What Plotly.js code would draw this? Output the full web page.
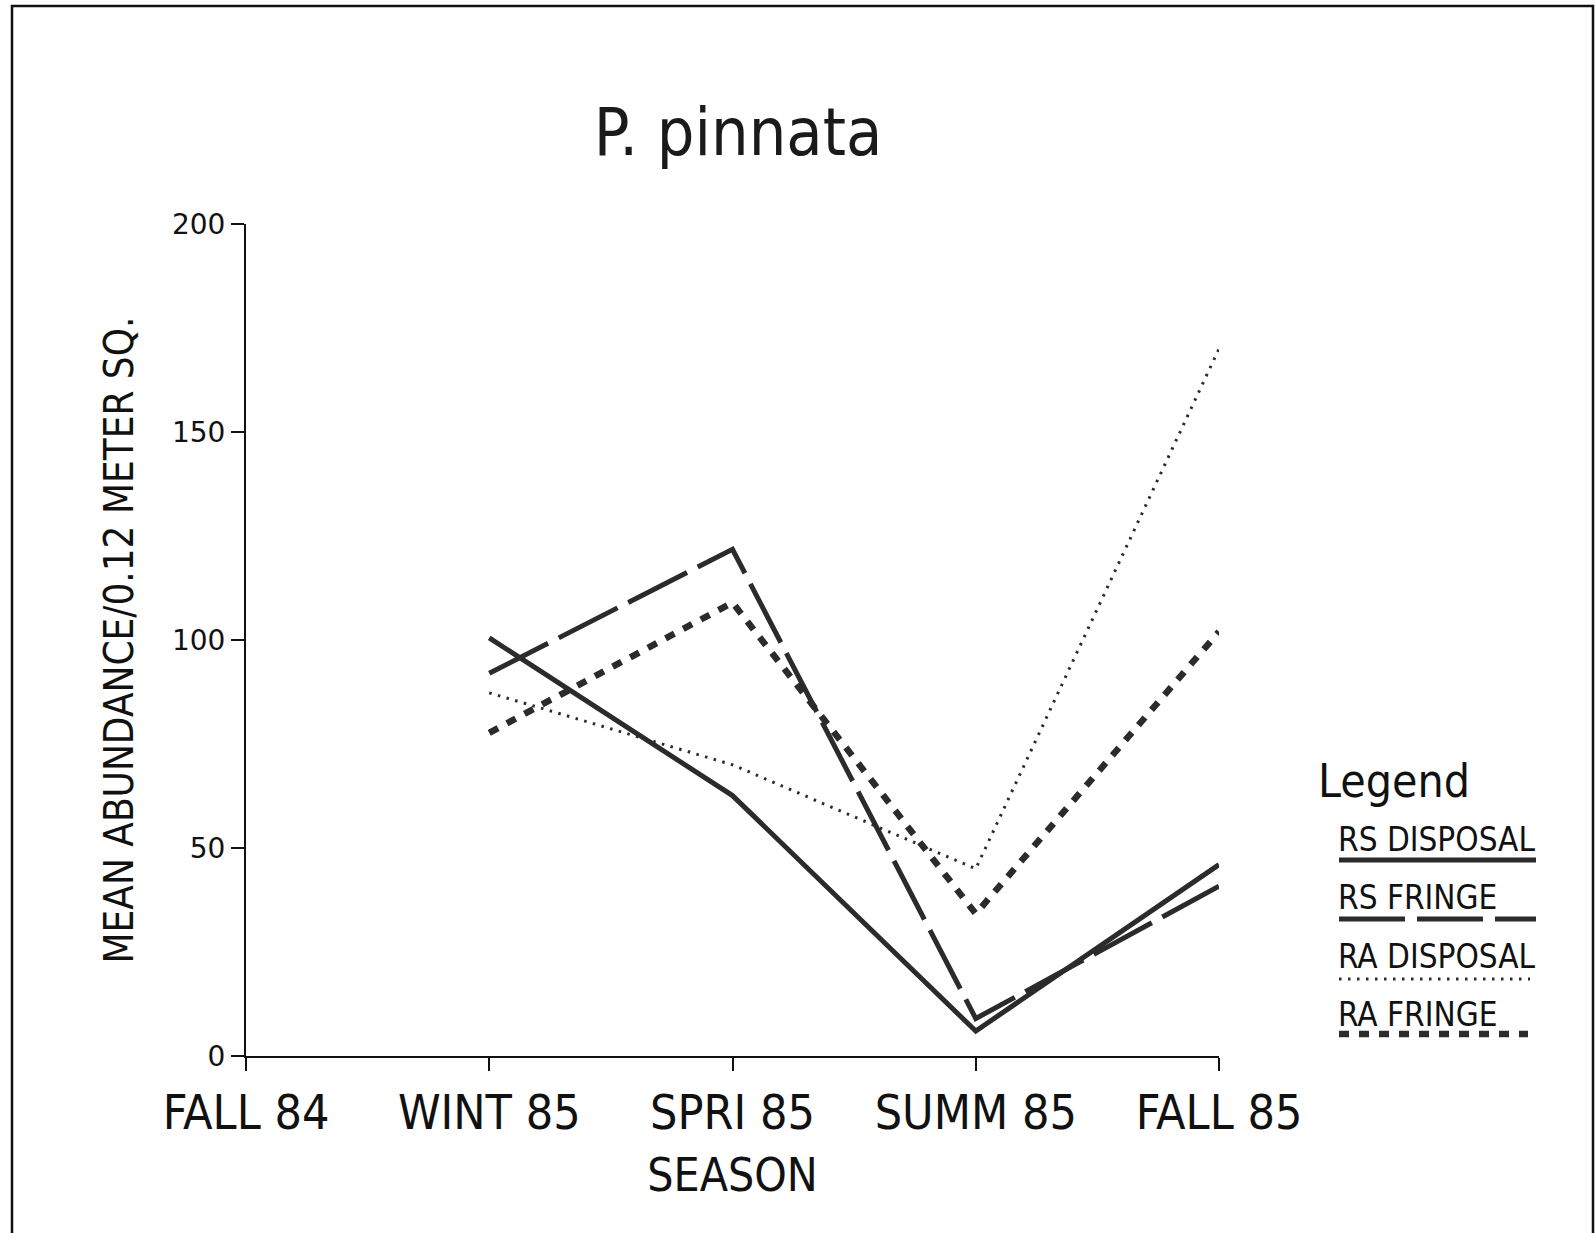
<!DOCTYPE html>
<html>
<head>
<meta charset="utf-8">
<script src="https://cdn.plot.ly/plotly-3.0.1.min.js"></script>
<style>
  html, body { margin: 0; padding: 0; background: #fff; }
  #chart { width: 1595px; height: 1233px; }
</style>
</head>
<body>
<div id="chart"></div>
<script>
// ---- Data ----
const seasons    = ['FALL 84', 'WINT 85', 'SPRI 85', 'SUMM 85', 'FALL 85'];
const rsDisposal = [null, 100.5, 62.6, 6.0, 46.0];
const rsFringe   = [null, 92.0, 121.8, 9.0, 40.8];
const raDisposal = [null, 87.3, 70.0, 45.0, 170.0];
const raFringe   = [null, 77.7, 109.0, 34.2, 102.0];
const seriesNames = ['RS DISPOSAL', 'RS FRINGE', 'RA DISPOSAL', 'RA FRINGE'];
const yTicks = [0, 50, 100, 150, 200];

// ---- Styles ----
const INK = '#2b2b2b';
const styles = [
  { color: INK, width: 5, dash: 'solid' },
  { color: INK, width: 5, dash: '66px,12px' },
  { color: INK, width: 3, dash: '2.5px,6.5px' },
  { color: INK, width: 6.5, dash: '10px,10px' }
];
const COND = '"DejaVu Sans Condensed", "DejaVu Sans", sans-serif';

// Layout geometry (pixels)
const W = 1595, H = 1233;
const L = 246, R = 1219, T = 224, B = 1056;
const xp = px => (px - L) / (R - L);
const yp = py => (B - py) / (B - T);

const allSeries = [rsDisposal, rsFringe, raDisposal, raFringe];
const traces = allSeries.map((vals, i) => ({
  type: 'scatter',
  mode: 'lines',
  name: seriesNames[i],
  x: seasons,
  y: vals,
  line: { color: styles[i].color, width: styles[i].width, dash: styles[i].dash },
  connectgaps: false,
  showlegend: false,
  hoverinfo: 'x+y+name'
}));

// Custom legend (text above a line sample)
const legendX0 = 1339;
const legendRows = [
  { ty: 839, ly: 860, x1: 1536 },
  { ty: 897, ly: 919, x1: 1536 },
  { ty: 956, ly: 979, x1: 1530 },
  { ty: 1014, ly: 1034, x1: 1528 }
];

const annotations = [
  { text: 'Legend', xref: 'paper', yref: 'paper', x: xp(1394), y: yp(781),
    xanchor: 'center', yanchor: 'middle', showarrow: false,
    font: { family: COND, size: 46, color: '#111' } }
];
const shapes = [
  // page frame (left, top, right)
  { type: 'path', xref: 'paper', yref: 'paper',
    path: `M ${xp(12)} ${yp(H)} L ${xp(12)} ${yp(6)} L ${xp(1593)} ${yp(6)} L ${xp(1593)} ${yp(H)}`,
    line: { color: '#111', width: 2.5 } }
];
seriesNames.forEach((nm, i) => {
  annotations.push({
    text: nm, xref: 'paper', yref: 'paper', x: xp(legendX0 - 3), y: yp(legendRows[i].ty),
    xanchor: 'left', yanchor: 'middle', showarrow: false,
    font: { family: COND, size: 33, color: '#111' }
  });
  shapes.push({
    type: 'line', xref: 'paper', yref: 'paper',
    x0: xp(legendX0), x1: xp(legendRows[i].x1),
    y0: yp(legendRows[i].ly), y1: yp(legendRows[i].ly),
    line: { color: styles[i].color, width: styles[i].width, dash: styles[i].dash }
  });
});

const layout = {
  width: W, height: H,
  paper_bgcolor: '#ffffff', plot_bgcolor: '#ffffff',
  margin: { l: L, r: W - R, t: T, b: H - B, pad: 0 },
  showlegend: false,
  title: {
    text: 'P. pinnata',
    x: 738 / W, xref: 'container', xanchor: 'center',
    y: 1 - 132 / H, yref: 'container', yanchor: 'middle',
    font: { family: COND, size: 66, color: '#1a1a1a' }
  },
  xaxis: {
    type: 'category',
    range: [0, seasons.length - 1],
    showline: true, linecolor: '#111', linewidth: 2,
    ticks: 'outside', ticklen: 13, tickwidth: 2, tickcolor: '#111',
    showgrid: false, zeroline: false,
    tickfont: { family: COND, size: 48, color: '#111' },
    title: { text: 'SEASON', standoff: 20,
             font: { family: COND, size: 46, color: '#111' } },
    automargin: false, fixedrange: true
  },
  yaxis: {
    range: [0, 200],
    tickvals: yTicks,
    showline: true, linecolor: '#111', linewidth: 2,
    ticks: 'outside', ticklen: 13, tickwidth: 2, tickcolor: '#111',
    showgrid: false, zeroline: false,
    tickfont: { family: '"DejaVu Sans", sans-serif', size: 28, color: '#111' },
    title: { text: 'MEAN ABUNDANCE/0.12 METER SQ.', standoff: 26,
             font: { family: COND, size: 40, color: '#111' } },
    automargin: false, fixedrange: true
  },
  annotations: annotations,
  shapes: shapes
};

Plotly.newPlot('chart', traces, layout, { staticPlot: true, displayModeBar: false });
</script>
</body>
</html>
